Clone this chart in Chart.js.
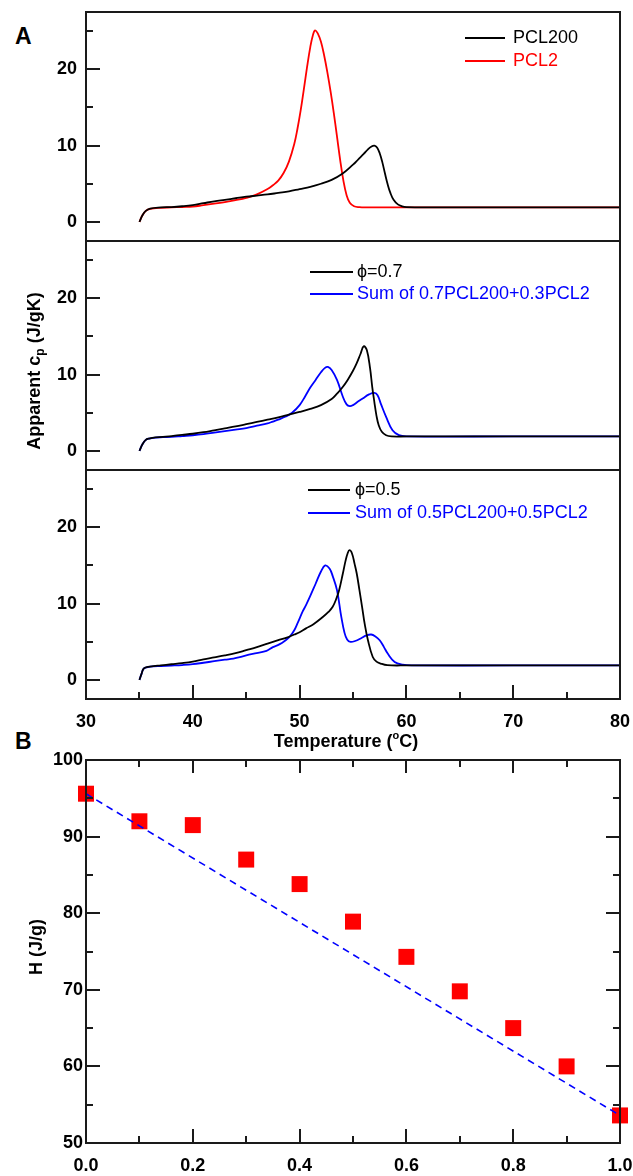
<!DOCTYPE html>
<html lang="en">
<head>
<meta charset="UTF-8">
<title>PCL blends - apparent cp and melting enthalpy</title>
<script src="https://cdn.jsdelivr.net/npm/chart.js@4"></script>
<style>
  html, body { margin: 0; padding: 0; background: #fff; }
  body { position: relative; width: 633px; height: 1176px; overflow: hidden; }
  canvas { position: absolute; left: 0; }
  .tag { position: absolute; left: 15px; font: bold 23px "Liberation Sans", Arial, sans-serif; line-height: 1; }
</style>
</head>
<body>
<div class="tag" style="top: 25px;">A</div>
<div class="tag" style="top: 730px;">B</div>
<canvas id="a1" width="633" height="250" style="top:0px"></canvas>
<canvas id="a2" width="633" height="250" style="top:232px"></canvas>
<canvas id="a3" width="633" height="295" style="top:461px"></canvas>
<canvas id="b" width="633" height="431" style="top:745px"></canvas>
<script>
// panel A, top: pure components
const pcl200T = [35, 35.3, 35.6, 36, 37, 38, 39, 40, 41, 42, 43, 44, 45, 46, 47, 48, 49, 50, 51, 52, 53, 54, 55, 55.5, 56, 56.4, 56.7, 57, 57.25, 57.5, 57.75, 58, 58.25, 58.5, 58.8, 59.2, 59.6, 60, 62, 70, 80];
const pcl200Cp = [0, 0.9, 1.45, 1.75, 1.9, 1.95, 2.05, 2.2, 2.45, 2.7, 2.9, 3.1, 3.3, 3.45, 3.6, 3.8, 4.0, 4.3, 4.6, 5.0, 5.5, 6.3, 7.5, 8.2, 8.9, 9.5, 9.85, 10.0, 9.75, 9.0, 7.8, 6.3, 4.9, 3.8, 2.9, 2.3, 2.05, 1.95, 1.9, 1.9, 1.9];
const pcl2T = [35, 35.3, 35.6, 36, 37, 38, 39, 40, 41, 42, 43, 44, 45, 46, 47, 47.5, 48, 48.5, 49, 49.5, 49.8, 50.1, 50.4, 50.7, 51.0, 51.25, 51.45, 51.7, 52.0, 52.3, 52.6, 52.9, 53.2, 53.5, 53.8, 54.1, 54.4, 54.7, 55.1, 55.6, 56.2, 60, 70, 80];
const pcl2Cp = [0, 0.9, 1.45, 1.7, 1.85, 1.9, 1.95, 2.0, 2.2, 2.4, 2.6, 2.85, 3.15, 3.6, 4.3, 4.8, 5.4, 6.4, 7.9, 10.2, 12.2, 14.6, 17.4, 20.3, 22.9, 24.5, 25.1, 24.7, 23.6, 21.8, 19.6, 17.1, 14.3, 11.2, 8.1, 5.4, 3.5, 2.5, 2.05, 1.93, 1.9, 1.9, 1.9, 1.9];

// panel A, middle: phi = 0.7 blend vs weighted sum
const phi07T = [35, 35.3, 35.6, 35.9, 36.5, 37.2, 38, 39, 40, 41, 42, 43, 44, 45, 46, 47, 48, 49, 50, 51, 52, 53, 53.5, 54, 54.5, 55, 55.35, 55.7, 56, 56.3, 56.6, 56.8, 57.0, 57.2, 57.4, 57.7, 58.1, 58.6, 60, 70, 80];
const phi07Cp = [0, 0.9, 1.45, 1.62, 1.78, 1.84, 1.95, 2.1, 2.25, 2.45, 2.7, 2.95, 3.2, 3.5, 3.8, 4.1, 4.4, 4.75, 5.1, 5.5, 6.0, 6.8, 7.5, 8.3, 9.3, 10.5, 11.5, 12.7, 13.7, 13.2, 10.8, 8.4, 6.4, 4.6, 3.4, 2.5, 2.05, 1.9, 1.9, 1.9, 1.9];
const sum07T = [35, 35.3, 35.6, 35.9, 36.5, 37.2, 38, 39, 40, 41, 42, 43, 44, 45, 46, 47, 47.5, 48, 48.7, 49.3, 50, 50.5, 51, 51.5, 52, 52.35, 52.65, 53, 53.5, 54.05, 54.4, 54.7, 55, 55.5, 55.9, 56.5, 57.0, 57.3, 57.6, 58.1, 58.7, 59.3, 60, 70, 80];
const sum07Cp = [0, 0.9, 1.45, 1.62, 1.75, 1.8, 1.85, 1.95, 2.05, 2.2, 2.4, 2.6, 2.8, 3.0, 3.3, 3.6, 3.85, 4.1, 4.5, 5.0, 6.0, 7.1, 8.3, 9.3, 10.3, 10.85, 11.0, 10.6, 9.3, 7.1, 6.1, 5.86, 6.0, 6.5, 6.86, 7.4, 7.6, 7.3, 6.2, 4.45, 2.7, 2.06, 1.9, 1.9, 1.9];

// panel A, bottom: phi = 0.5 blend vs weighted sum
const phi05T = [35, 35.2, 35.4, 35.8, 36.3, 37, 38, 39, 40, 41, 42, 43, 44, 45, 46, 47, 48, 48.8, 49.5, 50, 50.6, 51.3, 52.2, 52.7, 53.1, 53.4, 53.7, 54.05, 54.3, 54.5, 54.67, 54.9, 55.15, 55.35, 55.6, 55.85, 56.1, 56.4, 56.85, 57.2, 57.6, 58.2, 60, 70, 80];
const phi05Cp = [0, 0.8, 1.49, 1.7, 1.8, 1.9, 2.05, 2.2, 2.4, 2.7, 2.95, 3.2, 3.5, 3.9, 4.3, 4.75, 5.2, 5.55, 5.95, 6.25, 6.75, 7.3, 8.27, 8.9, 9.58, 10.5, 11.76, 13.94, 15.6, 16.6, 17.0, 16.6, 15.2, 13.94, 11.8, 9.58, 7.3, 5.2, 3.0, 2.4, 2.14, 1.93, 1.9, 1.9, 1.9];
const sum05T = [35, 35.2, 35.4, 35.8, 36.3, 37, 38, 39, 40, 41, 42, 43, 43.8, 44.4, 45.6, 46.9, 47.5, 48.1, 48.6, 49.1, 49.5, 49.8, 50.3, 50.6, 51.0, 51.5, 52.0, 52.4, 52.8, 53.1, 53.5, 53.9, 54.2, 54.45, 54.77, 55.2, 55.8, 56.2, 56.7, 57.1, 57.5, 57.9, 58.25, 58.9, 59.65, 60.5, 70, 80];
const sum05Cp = [0, 0.8, 1.49, 1.68, 1.78, 1.82, 1.88, 1.95, 2.06, 2.25, 2.45, 2.65, 2.8, 3.0, 3.4, 3.8, 4.3, 4.65, 5.1, 5.7, 6.5, 7.4, 9.0, 9.8, 11.0, 12.6, 14.2, 15.0, 14.6, 13.6, 11.76, 8.3, 6.2, 5.3, 4.98, 5.1, 5.5, 5.8, 5.95, 5.7, 5.2, 4.3, 3.45, 2.36, 2.0, 1.9, 1.9, 1.9];

const tempTicks = [30, 40, 50, 60, 70, 80];
const tempMinor = [35, 45, 55, 65, 75];
const cpTicks = [0, 10, 20];
const cpMinor = [5, 15, 25];

// panel B: melting enthalpy vs PCL200 fraction
const phiVals = [0, 0.1, 0.2, 0.3, 0.4, 0.5, 0.6, 0.7, 0.8, 0.9, 1.0];
const enthalpy = [95.6, 92.0, 91.5, 87.0, 83.8, 78.9, 74.3, 69.8, 65.0, 60.0, 53.6];
const mixLineX = [0, 1];
const mixLineH = [95.6, 53.6];
const phiTicks = [0, 0.2, 0.4, 0.6, 0.8, 1.0];
const phiMinor = [0.1, 0.3, 0.5, 0.7, 0.9];
const hTicks = [50, 60, 70, 80, 90, 100];
const hMinor = [55, 65, 75, 85, 95];

const FONT = '"Liberation Sans", Arial, Helvetica, sans-serif';
Chart.defaults.font.family = FONT;
Chart.defaults.font.size = 18;
Chart.defaults.font.weight = 'bold';
Chart.defaults.color = '#000';

const pts = (xs, ys) => xs.map((x, i) => ({ x, y: ys[i] }));
const asTicks = vals => s => { s.ticks = vals.map(v => ({ value: v })); };

// text made of pieces, some sub/superscript; centred on (x, y)
function drawParts(ctx, parts, x, y, rotate) {
  ctx.save();
  ctx.translate(x, y);
  if (rotate) ctx.rotate(-Math.PI / 2);
  ctx.textBaseline = 'middle';
  ctx.textAlign = 'left';
  ctx.fillStyle = '#000';
  let total = 0;
  parts.forEach(p => {
    ctx.font = 'bold ' + (p.size || 18) + 'px ' + FONT;
    p.w = ctx.measureText(p.t).width;
    total += p.w;
  });
  let cx = -total / 2;
  parts.forEach(p => {
    ctx.font = 'bold ' + (p.size || 18) + 'px ' + FONT;
    ctx.fillText(p.t, cx, p.dy || 0);
    cx += p.w;
  });
  ctx.restore();
}

const framePlugin = {
  id: 'frame',
  afterDatasetsDraw(chart, args, o) {
    const { ctx, chartArea: a, scales } = chart;
    const l = Math.round(a.left), r = Math.round(a.right), t = Math.round(a.top), b = Math.round(a.bottom);
    ctx.save();
    ctx.strokeStyle = '#1a1a1a';
    ctx.lineWidth = 2;
    ctx.strokeRect(l, t, r - l, b - t);
    ctx.beginPath();
    (o.marks || []).forEach(m => {
      m.values.forEach(v => {
        const p = Math.round(scales[m.axis].getPixelForValue(v));
        if (m.side === 'left') { ctx.moveTo(l, p); ctx.lineTo(l + m.len, p); }
        if (m.side === 'right') { ctx.moveTo(r, p); ctx.lineTo(r - m.len, p); }
        if (m.side === 'bottom') { ctx.moveTo(p, b); ctx.lineTo(p, b - m.len); }
        if (m.side === 'top') { ctx.moveTo(p, t); ctx.lineTo(p, t + m.len); }
      });
    });
    ctx.stroke();

    if (o.legend) {
      const lg = o.legend;
      ctx.font = '18px ' + FONT;
      ctx.textBaseline = 'middle';
      ctx.textAlign = 'left';
      chart.data.datasets.forEach((ds, i) => {
        const y = t + lg.y + i * lg.row;
        ctx.strokeStyle = ds.borderColor;
        ctx.fillStyle = ds.borderColor;
        ctx.lineWidth = 2;
        ctx.beginPath();
        ctx.moveTo(lg.x, y);
        ctx.lineTo(lg.x + lg.len, y);
        ctx.stroke();
        ctx.fillText(ds.label, lg.x + lg.len + lg.gap, y);
      });
    }
    (o.titles || []).forEach(tt => drawParts(ctx, tt.parts, tt.x, tt.y, tt.rotate));
    ctx.restore();
  }
};

function cpPanel(id, sets, o) {
  const marks = [
    { axis: 'y', side: 'left', values: cpTicks, len: 14 },
    { axis: 'y', side: 'left', values: cpMinor, len: 7 }
  ];
  if (o.showX) {
    marks.push({ axis: 'x', side: 'bottom', values: tempTicks, len: 14 });
    marks.push({ axis: 'x', side: 'bottom', values: tempMinor, len: 7 });
  }
  return new Chart(document.getElementById(id), {
    type: 'line',
    data: {
      datasets: sets.map(s => ({
        label: s.label,
        data: pts(s.t, s.cp),
        borderColor: s.color,
        borderWidth: 1.8,
        pointRadius: 0,
        fill: false,
        tension: 0.4
      }))
    },
    options: {
      responsive: false,
      animation: false,
      events: [],
      layout: { padding: { top: o.top, bottom: o.bottom, left: 0, right: 13 } },
      scales: {
        x: {
          type: 'linear', min: 30, max: 80,
          display: o.showX,
          grid: { display: false, drawTicks: false },
          border: { display: false },
          ticks: { padding: 12, maxRotation: 0, autoSkip: false },
          afterBuildTicks: asTicks(tempTicks),
          afterFit: s => { if (o.showX) { s.height = 57; s.paddingLeft = 0; s.paddingRight = 0; } }
        },
        y: {
          min: -2.5, max: 27.5,
          grid: { display: false, drawTicks: false },
          border: { display: false },
          ticks: { padding: 9 },
          afterBuildTicks: asTicks(cpTicks),
          afterFit: s => { s.width = 86; s.paddingTop = 0; s.paddingBottom = 0; }
        }
      },
      plugins: {
        legend: { display: false },
        tooltip: { enabled: false },
        frame: { marks, legend: o.legend, titles: o.titles }
      }
    },
    plugins: [framePlugin]
  });
}

cpPanel('a1', [
  { label: 'PCL200', t: pcl200T, cp: pcl200Cp, color: '#000000' },
  { label: 'PCL2', t: pcl2T, cp: pcl2Cp, color: '#ff0000' }
], { top: 12, bottom: 9, showX: false, legend: { x: 465, y: 26, row: 23, len: 40, gap: 8 } });

cpPanel('a2', [
  { label: '\u03D5=0.7', t: phi07T, cp: phi07Cp, color: '#000000' },
  { label: 'Sum of 0.7PCL200+0.3PCL2', t: sum07T, cp: sum07Cp, color: '#0000ff' }
], {
  top: 9, bottom: 12, showX: false,
  legend: { x: 310, y: 31, row: 22, len: 43, gap: 4 },
  titles: [{ rotate: true, x: 35, y: 139, parts: [
    { t: 'Apparent c' }, { t: 'p', size: 12, dy: 6 }, { t: ' (J/gK)' }
  ] }]
});

cpPanel('a3', [
  { label: '\u03D5=0.5', t: phi05T, cp: phi05Cp, color: '#000000' },
  { label: 'Sum of 0.5PCL200+0.5PCL2', t: sum05T, cp: sum05Cp, color: '#0000ff' }
], {
  top: 9, bottom: 0, showX: true,
  legend: { x: 308, y: 20, row: 23, len: 42, gap: 5 },
  titles: [{ rotate: false, x: 346, y: 281, parts: [
    { t: 'Temperature (' }, { t: 'o', size: 11, dy: -6 }, { t: 'C)' }
  ] }]
});

new Chart(document.getElementById('b'), {
  type: 'scatter',
  data: {
    datasets: [
      {
        label: 'H',
        data: pts(phiVals, enthalpy),
        pointStyle: 'rect',
        pointRadius: 11.3,
        backgroundColor: '#ff0000',
        borderWidth: 0,
        clip: false,
        order: 2
      },
      {
        type: 'line',
        label: 'linear mix',
        data: pts(mixLineX, mixLineH),
        borderColor: '#0000ff',
        borderWidth: 1.6,
        borderDash: [7, 5],
        pointRadius: 0,
        fill: false,
        order: 1
      }
    ]
  },
  options: {
    responsive: false,
    animation: false,
    events: [],
    layout: { padding: { top: 15, bottom: 0, left: 0, right: 13 } },
    scales: {
      x: {
        type: 'linear', min: 0, max: 1,
        grid: { display: false, drawTicks: false },
        border: { display: false },
        ticks: { padding: 12, maxRotation: 0, autoSkip: false, callback: v => Number(v).toFixed(1) },
        afterBuildTicks: asTicks(phiTicks),
        afterFit: s => { s.height = 33; s.paddingLeft = 0; s.paddingRight = 0; }
      },
      y: {
        min: 50, max: 100,
        grid: { display: false, drawTicks: false },
        border: { display: false },
        ticks: { padding: 3 },
        afterBuildTicks: asTicks(hTicks),
        afterFit: s => { s.width = 86; s.paddingTop = 0; s.paddingBottom = 0; }
      }
    },
    plugins: {
      legend: { display: false },
      tooltip: { enabled: false },
      frame: {
        marks: [
          { axis: 'y', side: 'left', values: hTicks, len: 14 },
          { axis: 'y', side: 'left', values: hMinor, len: 7 },
          { axis: 'y', side: 'right', values: hTicks, len: 14 },
          { axis: 'y', side: 'right', values: hMinor, len: 7 },
          { axis: 'x', side: 'bottom', values: phiTicks, len: 14 },
          { axis: 'x', side: 'bottom', values: phiMinor, len: 7 },
          { axis: 'x', side: 'top', values: phiTicks, len: 13 },
          { axis: 'x', side: 'top', values: phiMinor, len: 7 }
        ],
        titles: [{ rotate: true, x: 37, y: 202, parts: [{ t: 'H (J/g)' }] }]
      }
    }
  },
  plugins: [framePlugin]
});
</script>
</body>
</html>
